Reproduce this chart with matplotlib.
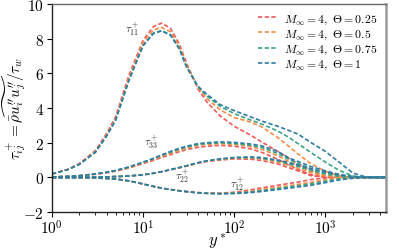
import matplotlib
matplotlib.use('Agg')
import matplotlib.pyplot as plt

plt.rcParams['mathtext.fontset'] = 'cm'
plt.rcParams['font.family'] = 'serif'
plt.rcParams['font.serif'] = ['cmr10', 'DejaVu Serif']
plt.rcParams['axes.formatter.use_mathtext'] = True

# wall-normal coordinate (shared by every curve)
yplus = [1, 1.5, 2, 3, 4, 5, 7, 10, 13, 16, 20, 25, 30, 40, 50, 70, 100, 150,
         200, 300, 400, 500, 700, 1000, 1400, 2000, 2800, 4000, 4600]

theta_labels = ['0.25', '0.5', '0.75', '1']

tau11_025 = [0.2, 0.47, 0.8, 1.55, 2.55, 3.5, 5.9, 7.9, 8.7, 8.9, 8.6, 7.7, 6.6, 5.1, 4.35, 3.55, 2.95, 2.45,
             2.05, 1.5, 1.1, 0.8, 0.4, 0.06, 0, 0, 0, 0, 0]
tau11_05 = [0.2, 0.46, 0.77, 1.5, 2.45, 3.4, 5.75, 7.75, 8.5, 8.65, 8.4, 7.55, 6.5, 5.2, 4.55, 3.9, 3.45, 3.2,
            2.92, 2.3, 1.78, 1.35, 0.78, 0.35, 0.1, 0, 0, 0, 0]
tau11_075 = [0.2, 0.45, 0.75, 1.45, 2.4, 3.3, 5.6, 7.6, 8.32, 8.47, 8.22, 7.45, 6.4, 5.25, 4.7, 4.1, 3.68, 3.32,
             3.08, 2.68, 2.3, 1.95, 1.42, 0.88, 0.42, 0.08, 0, 0, 0]
tau11_1 = [0.2, 0.45, 0.75, 1.45, 2.4, 3.3, 5.6, 7.6, 8.3, 8.45, 8.2, 7.4, 6.35, 5.25, 4.8, 4.2, 3.85, 3.5,
           3.25, 2.95, 2.7, 2.5, 2.0, 1.5, 0.9, 0.25, 0.02, 0, 0]

tau33_025 = [0.03, 0.06, 0.1, 0.18, 0.27, 0.36, 0.54, 0.8, 0.98, 1.15, 1.32, 1.48, 1.6, 1.74, 1.8, 1.85, 1.8, 1.65,
             1.45, 1.05, 0.7, 0.45, 0.15, 0.02, 0, 0, 0, 0, 0]
tau33_05 = [0.03, 0.06, 0.1, 0.19, 0.29, 0.38, 0.57, 0.84, 1.04, 1.22, 1.4, 1.57, 1.7, 1.85, 1.91, 1.95, 1.9, 1.78,
            1.62, 1.25, 0.9, 0.68, 0.35, 0.12, 0.02, 0, 0, 0, 0]
tau33_075 = [0.03, 0.06, 0.1, 0.2, 0.3, 0.4, 0.6, 0.87, 1.08, 1.27, 1.46, 1.63, 1.75, 1.9, 1.96, 2.0, 1.96, 1.86,
             1.73, 1.38, 1.03, 0.8, 0.5, 0.25, 0.08, 0.01, 0, 0, 0]
tau33_1 = [0.03, 0.06, 0.1, 0.2, 0.3, 0.4, 0.6, 0.88, 1.1, 1.3, 1.5, 1.68, 1.8, 1.95, 2.0, 2.05, 2.02, 1.93,
           1.82, 1.5, 1.12, 0.92, 0.62, 0.38, 0.18, 0.05, 0, 0, 0]

tau22_025 = [0, 0, 0.01, 0.02, 0.03, 0.05, 0.08, 0.15, 0.24, 0.33, 0.44, 0.55, 0.65, 0.82, 0.92, 1.0, 1.07, 1.05,
             0.98, 0.78, 0.55, 0.38, 0.1, 0, 0, 0, 0, 0, 0]
tau22_05 = [0, 0, 0.01, 0.02, 0.03, 0.05, 0.08, 0.15, 0.24, 0.33, 0.45, 0.56, 0.66, 0.84, 0.94, 1.04, 1.1, 1.12,
            1.07, 0.88, 0.68, 0.52, 0.27, 0.08, 0.01, 0, 0, 0, 0]
tau22_075 = [0, 0, 0.01, 0.02, 0.03, 0.05, 0.08, 0.15, 0.24, 0.33, 0.45, 0.57, 0.67, 0.85, 0.95, 1.06, 1.13, 1.15,
             1.11, 0.95, 0.78, 0.63, 0.4, 0.2, 0.07, 0.01, 0, 0, 0]
tau22_1 = [0, 0, 0.01, 0.02, 0.03, 0.05, 0.08, 0.15, 0.24, 0.33, 0.45, 0.57, 0.67, 0.85, 0.95, 1.07, 1.15, 1.18,
           1.15, 1.0, 0.85, 0.72, 0.5, 0.3, 0.15, 0.04, 0, 0, 0]

tau12_025 = [0, -0.005, -0.01, -0.03, -0.06, -0.09, -0.2, -0.38, -0.52, -0.62, -0.7, -0.77, -0.81, -0.87, -0.9, -0.91,
             -0.85, -0.72, -0.6, -0.45, -0.35, -0.27, -0.12, -0.03, 0, 0, 0, 0, 0]
tau12_05 = [0, -0.005, -0.01, -0.03, -0.06, -0.09, -0.2, -0.38, -0.52, -0.62, -0.7, -0.77, -0.82, -0.88, -0.91, -0.93,
            -0.89, -0.8, -0.7, -0.57, -0.48, -0.4, -0.28, -0.13, -0.04, 0, 0, 0, 0]
tau12_075 = [0, -0.005, -0.01, -0.03, -0.06, -0.09, -0.2, -0.38, -0.52, -0.62, -0.7, -0.77, -0.82, -0.89, -0.92, -0.94,
             -0.91, -0.84, -0.76, -0.64, -0.56, -0.48, -0.37, -0.22, -0.09, -0.02, 0, 0, 0]
tau12_1 = [0, -0.005, -0.01, -0.03, -0.06, -0.09, -0.2, -0.38, -0.52, -0.62, -0.7, -0.77, -0.82, -0.89, -0.92, -0.94,
           -0.93, -0.88, -0.81, -0.7, -0.62, -0.55, -0.45, -0.3, -0.15, -0.05, 0, 0, 0]

colors = ['#f05a5a', '#f78c46', '#3aa482', '#2e7ca6']

tau11 = [tau11_025, tau11_05, tau11_075, tau11_1]
tau22 = [tau22_025, tau22_05, tau22_075, tau22_1]
tau33 = [tau33_025, tau33_05, tau33_075, tau33_1]
tau12 = [tau12_025, tau12_05, tau12_075, tau12_1]

fig = plt.figure(figsize=(3.99, 2.51), dpi=100)
ax = fig.add_axes([0.130, 0.151, 0.837, 0.829])

dash = (2.6, 1.4)
for i in range(4):
    lab = r'$M_\infty = 4,\ \mathit{\Theta} = %s$' % theta_labels[i]
    ax.plot(yplus, tau11[i], color=colors[i], lw=1.2, dashes=dash, label=lab)
    ax.plot(yplus, tau33[i], color=colors[i], lw=1.2, dashes=dash)
    ax.plot(yplus, tau22[i], color=colors[i], lw=1.2, dashes=dash)
    ax.plot(yplus, tau12[i], color=colors[i], lw=1.2, dashes=dash)

ax.set_xscale('log')
ax.set_xlim(1, 4600)
ax.set_ylim(-2, 10)
ax.set_yticks([-2, 0, 2, 4, 6, 8, 10])

ax.text(7.7, 8.56, r'$\tau_{11}^+$', fontsize=8, ha='center', va='center', color='#333333')
ax.text(12.4, 2.04, r'$\tau_{33}^+$', fontsize=8, ha='center', va='center', color='#333333')
ax.text(27.2, 0.08, r'$\tau_{22}^+$', fontsize=8, ha='center', va='center', color='#333333')
ax.text(109, -0.39, r'$\tau_{12}^+$', fontsize=8, ha='center', va='center', color='#333333')

ax.set_xlabel(r'$y^*$', fontsize=12)
ax.xaxis.set_label_coords(0.494, -0.135, transform=ax.transAxes)
ax.xaxis.label.set_va('center')
ax.set_ylabel(r'$\tau_{ij}^+ = \widetilde{\bar{\rho} u_i^{\prime\prime} u_j^{\prime\prime}}/\tau_w$',
              fontsize=11)
ax.yaxis.set_label_coords(-0.07, 0.5)
ax.tick_params(labelsize=11, pad=2)
ax.tick_params(axis='x', pad=1)

for s in ['left', 'bottom']:
    ax.spines[s].set_color('#222222')
    ax.spines[s].set_linewidth(1.0)
ax.spines['top'].set_color('#666666')
ax.spines['top'].set_linewidth(1.0)
ax.spines['right'].set_color('#999999')
ax.spines['right'].set_linewidth(1.8)

ax.legend(loc='upper right', frameon=False, fontsize=8.5, handlelength=1.5,
          handletextpad=0.7, labelspacing=0.15, borderaxespad=0.3)

fig.savefig('out.png', dpi=100)
